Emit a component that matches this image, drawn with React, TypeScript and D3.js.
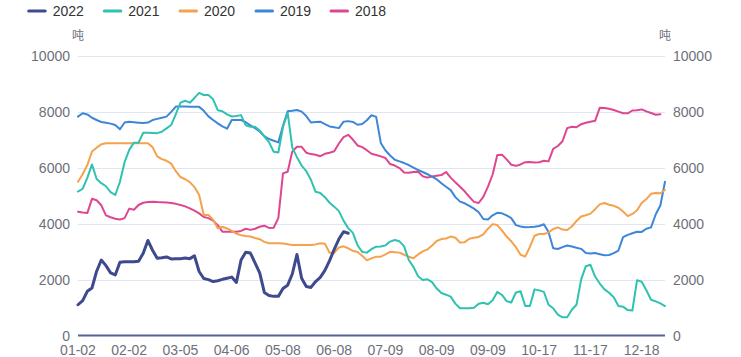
import React from "react";
import * as d3 from "d3";

// ---- data ----
// one value every 2 trading days (index 0..252)
const STEP = 2;
const LAST_INDEX = 252;
const tickLabels = ["01-02","02-02","03-05","04-06","05-08","06-08","07-09","08-09","09-09","10-17","11-17","12-18"];
const tickIndex = [0,22,44,66,88,110,132,154,176,198,220,242];
const yTicks = [0,2000,4000,6000,8000,10000];
const seriesNames = ["2022","2021","2020","2019","2018"];
const seriesColors = ["#3F4A8E","#2FC2B0","#F5A24C","#3D86D8","#E0468F"];

const v2022 = [1100,1250,1580,1700,2300,2700,2500,2240,2165,2620,
 2640,2640,2640,2660,2940,3400,3050,2762,2780,2810,
 2740,2750,2750,2770,2750,2850,2290,2040,2000,1930,
 1960,2010,2050,2090,1900,2700,2980,2950,2600,2240,
 1540,1430,1400,1400,1680,1800,2200,2900,2050,1750,
 1720,1930,2080,2330,2680,3080,3450,3714,3657];

const v2021 = [5150,5250,5640,6120,5600,5450,5340,5130,5027,5500,
 6200,6640,6900,6900,7255,7250,7245,7240,7290,7410,
 7530,7920,8330,8400,8330,8500,8680,8604,8604,8450,
 8060,8020,7910,7835,7850,7885,7520,7470,7470,7330,
 7120,6920,6575,6545,7460,7970,6720,6380,6080,5880,
 5570,5140,5100,4950,4750,4610,4450,4110,3840,3670,
 3230,2990,2965,3090,3177,3185,3225,3360,3417,3370,
 3190,2700,2455,2120,1986,2010,1910,1680,1520,1460,
 1390,1140,973,973,973,995,1135,1174,1120,1260,
 1560,1450,1230,1180,1540,1580,1055,1055,1650,1615,
 1560,1100,975,750,651,651,920,1100,2000,2480,
 2530,2110,1860,1650,1530,1370,1055,1031,910,895,
 1980,1925,1620,1280,1220,1150,1055];

const v2020 = [5500,5770,6100,6580,6720,6840,6877,6877,6877,6877,
 6877,6877,6877,6877,6877,6877,6740,6410,6310,6250,
 6150,5880,5670,5590,5490,5310,5030,4311,4311,4140,
 3840,3890,3830,3740,3640,3590,3560,3540,3490,3445,
 3350,3300,3300,3300,3290,3265,3240,3240,3240,3240,
 3240,3260,3300,3280,2960,2960,3150,3190,3120,3030,
 2990,2850,2690,2760,2820,2820,2900,2995,2980,2965,
 2890,2820,2765,2900,3010,3080,3220,3380,3450,3470,
 3540,3500,3330,3340,3460,3500,3525,3620,3820,3985,
 3950,3760,3540,3370,3160,2890,2820,3170,3570,3632,
 3632,3680,3810,3870,3790,3775,3900,4100,4260,4300,
 4360,4520,4690,4740,4680,4640,4570,4435,4270,4350,
 4480,4740,4880,5070,5100,5090,5206];

const v2019 = [7830,7950,7910,7790,7710,7640,7610,7580,7530,7380,
 7620,7645,7630,7615,7600,7620,7710,7750,7790,7830,
 8000,8190,8190,8190,8180,8180,8180,8040,7840,7710,
 7590,7480,7400,7710,7710,7710,7630,7520,7420,7300,
 7130,7030,6970,6910,7500,8020,8040,8070,8010,7850,
 7620,7640,7650,7560,7480,7450,7420,7650,7670,7640,
 7540,7570,7700,7880,7820,6890,6620,6440,6290,6230,
 6170,6100,6010,5920,5850,5770,5680,5590,5450,5320,
 5200,4950,4790,4730,4640,4540,4410,4170,4150,4300,
 4390,4370,4300,4200,3950,3900,3875,3880,3890,3920,
 3980,3700,3120,3095,3160,3220,3185,3140,3100,2950,
 2930,2950,2910,2870,2880,2950,3040,3520,3600,3660,
 3710,3705,3820,3870,4330,4650,5500];

const v2018 = [4430,4400,4380,4890,4840,4660,4300,4230,4180,4150,
 4200,4540,4500,4670,4750,4780,4785,4775,4770,4760,
 4740,4710,4670,4620,4550,4470,4370,4240,4200,4110,
 3950,3714,3714,3714,3714,3740,3820,3780,3820,3890,
 3930,3850,3855,4200,5800,5860,6580,6755,6752,6540,
 6490,6465,6415,6500,6540,6590,6870,7100,7180,7010,
 6800,6740,6630,6500,6460,6410,6350,6135,6080,5990,
 5830,5820,5850,5855,5700,5650,5685,5715,5740,5850,
 5650,5480,5325,5160,4960,4780,4740,4960,5325,5760,
 6460,6470,6300,6110,6070,6120,6200,6210,6190,6200,
 6250,6230,6680,6780,6950,7420,7470,7450,7560,7610,
 7650,7680,8150,8140,8110,8070,8010,7950,7950,8050,
 8060,8090,8020,7960,7900,7920,null];

const seriesValues = [v2022, v2021, v2020, v2019, v2018];
const unit = "吨";

// ---- layout ----
const W = 741, H = 357;
const L = 78, R = 665, T = 56, B = 335.5;
const FONT = "'Liberation Sans', Arial, 'Noto Sans CJK SC', sans-serif";

export default function App() {
  const x = d3.scaleLinear().domain([0, LAST_INDEX]).range([L, R]);
  const y = d3.scaleLinear().domain([0, 10000]).range([B, T]);
  const line = d3.line<number | null>()
    .defined(d => d != null)
    .x((_, i) => x(i * STEP))
    .y(d => y(d as number));

  const order = [4, 3, 2, 1, 0];
  const legendX = [52.7, 128.3, 204, 280, 355];

  return (
    <svg width={W} height={H} style={{ position: "absolute", left: 0, top: 0, background: "#fff" }} fontFamily={FONT}>
      {/* legend */}
      {seriesNames.map((n, i) => (
        <g key={n}>
          <line x1={legendX[i] - 24} x2={legendX[i] - 7.5} y1={11} y2={11} stroke={seriesColors[i]} strokeWidth={3} strokeLinecap="round" />
          <text x={legendX[i]} y={11} dominantBaseline="central" fontSize={14} fill="#333">{n}</text>
        </g>
      ))}
      {/* unit labels */}
      <text x={L} y={36} textAnchor="middle" dominantBaseline="central" fontSize={12} fill="#6E7079">{unit}</text>
      <text x={R} y={36} textAnchor="middle" dominantBaseline="central" fontSize={12} fill="#6E7079">{unit}</text>
      {/* grid */}
      {yTicks.filter(t => t > 0).map(t => (
        <line key={t} x1={L} x2={R} y1={Math.round(y(t)) + 0.5} y2={Math.round(y(t)) + 0.5} stroke="#E0E6F1" strokeWidth={1} />
      ))}
      {/* y labels */}
      {yTicks.map(t => (
        <g key={"yl" + t}>
          <text x={L - 8} y={y(t)} textAnchor="end" dominantBaseline="central" fontSize={14} fill="#6E7079">{t}</text>
          <text x={R + 8} y={y(t)} textAnchor="start" dominantBaseline="central" fontSize={14} fill="#6E7079">{t}</text>
        </g>
      ))}
      {/* x axis */}
      <line x1={L} x2={R} y1={B} y2={B} stroke="#58629A" strokeWidth={2} />
      {tickLabels.map((lab, i) => (
        <text key={lab} x={x(tickIndex[i])} y={349.5} textAnchor="middle" dominantBaseline="central" fontSize={14} fill="#6E7079">{lab}</text>
      ))}
      {/* series */}
      {order.map(i => (
        <path key={seriesNames[i]} d={line(seriesValues[i]) || ""} fill="none" stroke={seriesColors[i]}
          strokeWidth={i === 0 ? 3 : 2} strokeLinejoin="round" strokeLinecap="round" />
      ))}
    </svg>
  );
}
